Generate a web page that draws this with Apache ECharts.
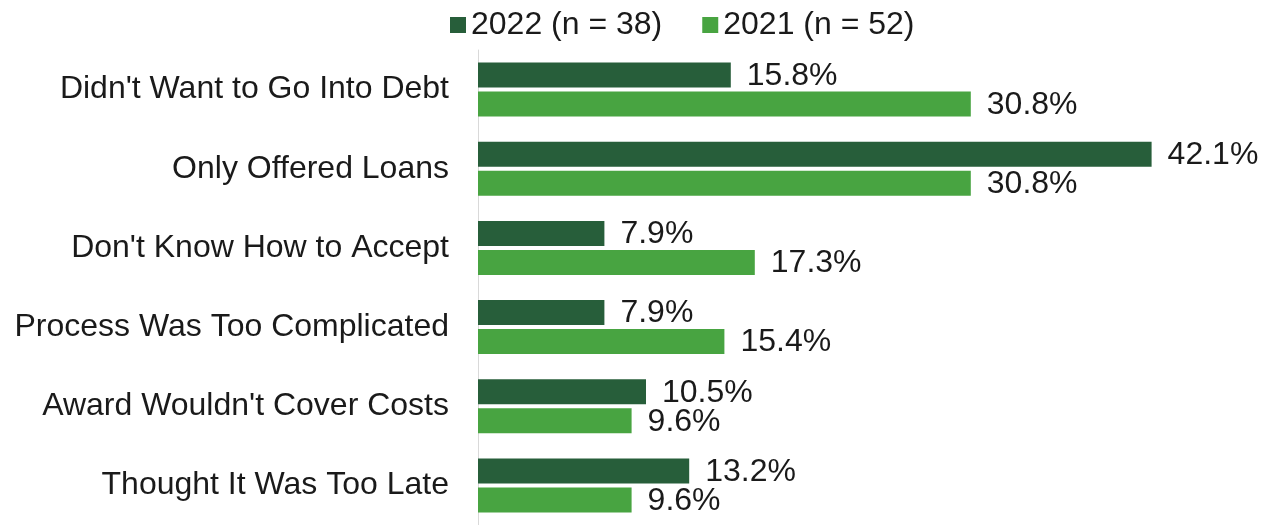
<!DOCTYPE html>
<html><head><meta charset="utf-8">
<script src="https://cdn.jsdelivr.net/npm/echarts@6/dist/echarts.min.js"></script>
<style>html,body{margin:0;padding:0;background:#fff}#c{width:1264px;height:525px}</style>
</head><body><div id="c"></div>
<script>
const categories = ["Didn't Want to Go Into Debt","Only Offered Loans","Don't Know How to Accept","Process Was Too Complicated","Award Wouldn't Cover Costs","Thought It Was Too Late"];
const seriesNames = ["2022 (n = 38)","2021 (n = 52)"];
const values2022 = [15.8,42.1,7.9,7.9,10.5,13.2];
const values2021 = [30.8,30.8,17.3,15.4,9.6,9.6];
const colors = ["#275E3A","#48A441"];
const font = "Arial, 'Liberation Sans', sans-serif";
const chart = echarts.init(document.getElementById('c'));
const mk = (name, data, color) => ({
  name, type:'bar', data, barWidth:25, barGap:'16%', barCategoryGap:'32%',
  itemStyle:{color}, animation:false,
  label:{show:true, position:'right', distance:16, offset:[0,1], formatter:p=>p.value.toFixed(1)+'%', fontSize:32, color:'#1a1a1a', fontFamily:font}
});
chart.setOption({
  animation:false,
  legend:{top:4, left:445, itemWidth:16, itemHeight:16, itemGap:40, icon:'rect',
    textStyle:{fontSize:32, color:'#1a1a1a', fontFamily:font}, data:seriesNames},
  grid:{left:478, right:66, top:50, bottom:-5, containLabel:false},
  xAxis:{type:'value', min:0, max:45, show:false},
  yAxis:{type:'category', data:categories, inverse:true,
    axisLine:{lineStyle:{color:'#d9d9d9', width:1}}, axisTick:{show:false},
    axisLabel:{fontSize:32, color:'#1a1a1a', fontFamily:font, margin:29}},
  series:[mk(seriesNames[0], values2022, colors[0]), mk(seriesNames[1], values2021, colors[1])]
});
</script></body></html>
